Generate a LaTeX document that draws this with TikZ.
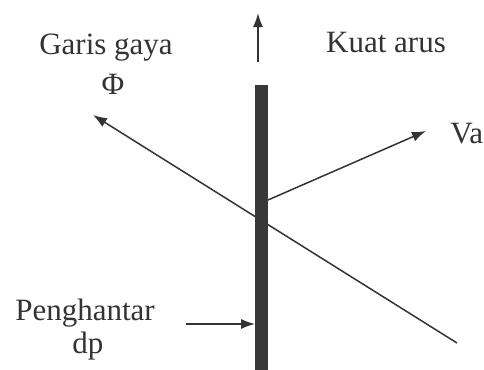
\documentclass[tikz,border=0pt]{standalone}
\usepackage{fontspec}
\setmainfont{Liberation Serif}
\usetikzlibrary{arrows.meta}
\tikzset{
  lbl/.style={text=black!80,font=\fontsize{15.5}{18}\selectfont,inner sep=1pt},
  vec/.style={line width=0.75pt,draw=black!80,-{Latex[length=7pt,width=5pt]}},
}
\begin{document}
\begin{tikzpicture}[x=0.5pt,y=-0.5pt]
\useasboundingbox (0,0) rectangle (484,370);
\coordinate (F1) at (457,343);
\coordinate (F2) at (93,115);
\draw[vec] (F1) to (F2);
\node[fill=black!78,minimum width=6.5pt,minimum height=142.5pt,inner sep=0pt,anchor=north] (bar) at (262,85) {};
\node[lbl] (kuat) at (386,43) {Kuat arus};
\node[lbl] (garis) at (106,48) {Garis gaya};
\node[lbl] (phi) at (113,84) {Φ};
\node[lbl,anchor=west] (va) at (448,134) {Va};
\node[lbl] (peng) at (85,313) {Penghantar};
\node[lbl] (dp) at (88,346) {dp};
\coordinate (I1) at (258,62);
\coordinate (I2) at (258,13);
\draw[vec] (I1) to (I2);
\coordinate (V1) at (268,200);
\coordinate (V2) at (426,131);
\draw[vec] (V1) to (V2);
\coordinate (P1) at (186,324);
\draw[vec] (P1) to (bar.west |- P1);
\end{tikzpicture}
\end{document}
